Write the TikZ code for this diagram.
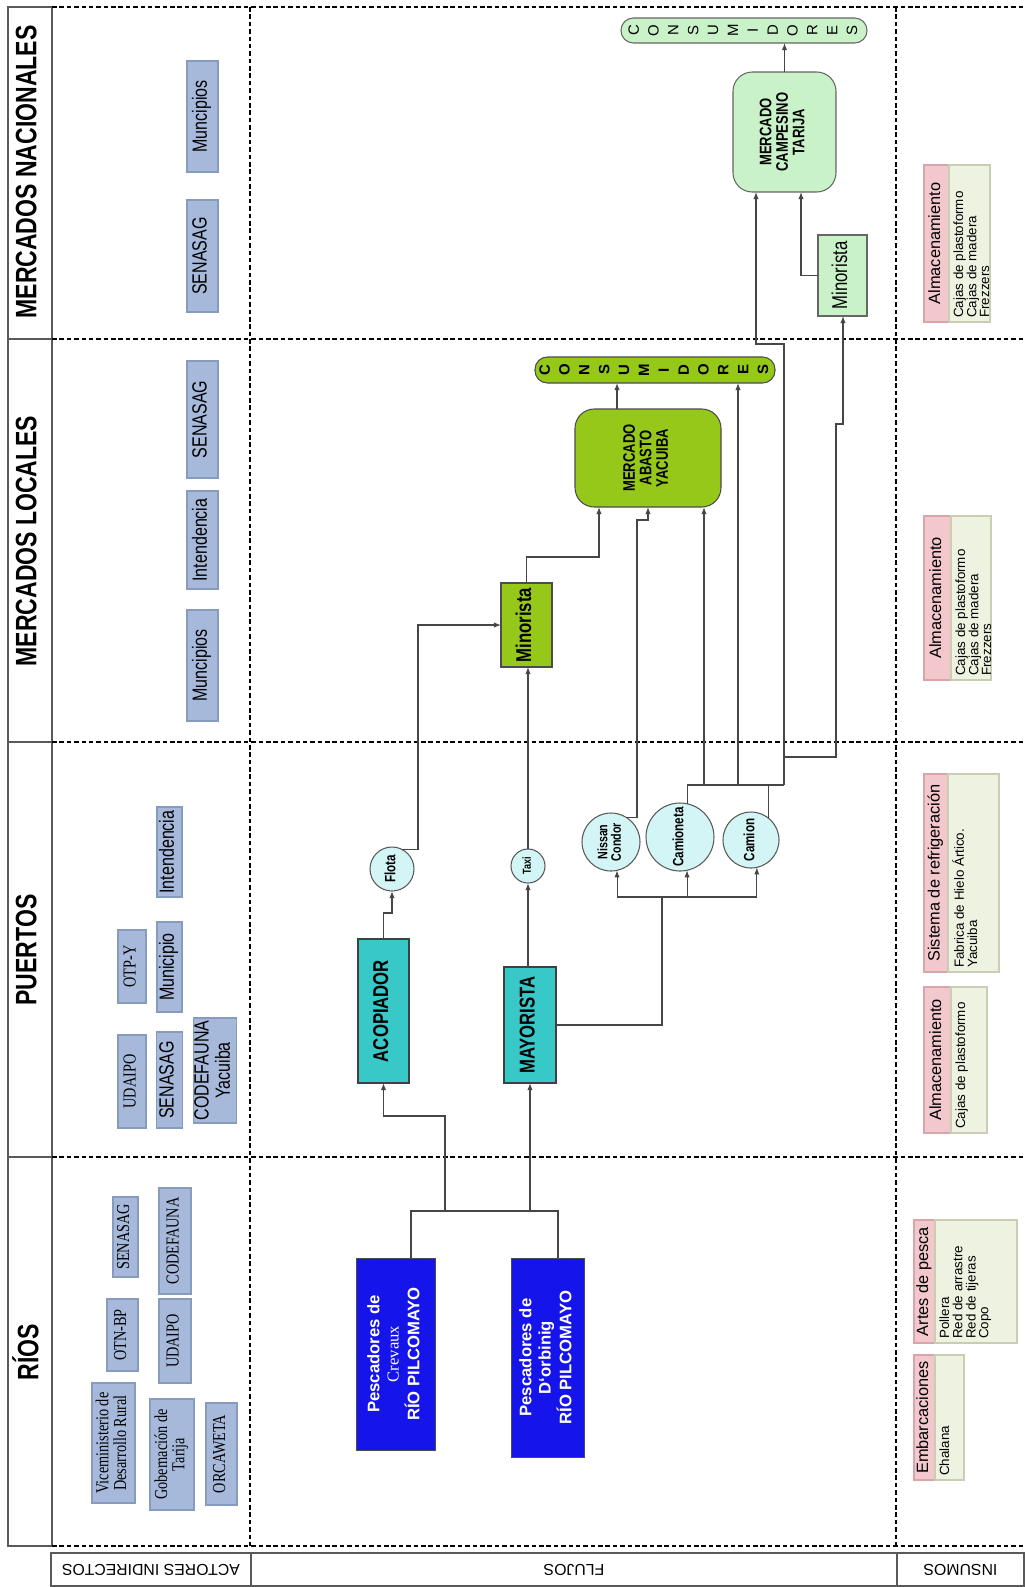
\documentclass[tikz,border=0pt]{standalone}
\usepackage{fontspec}
\usepackage{graphicx}
\setmainfont{Liberation Sans}
\newfontfamily\narrow{Liberation Sans}[FakeStretch=0.78]
\newfontfamily\narrowserif{Liberation Serif}[FakeStretch=0.78]
\newfontfamily\timesrm{Liberation Serif}
\usetikzlibrary{arrows.meta,calc}

\definecolor{actorfill}{RGB}{166,185,218}
\definecolor{actorline}{RGB}{135,155,190}
\definecolor{insheadfill}{RGB}{242,200,204}
\definecolor{insheadline}{RGB}{215,165,170}
\definecolor{insbodyfill}{RGB}{238,242,225}
\definecolor{insbodyline}{RGB}{200,205,180}
\definecolor{pescblue}{RGB}{20,20,235}
\definecolor{tealbox}{RGB}{56,200,200}
\definecolor{cyancirc}{RGB}{212,245,245}
\definecolor{limegreen}{RGB}{150,200,25}
\definecolor{palegreen}{RGB}{202,242,200}
\definecolor{linegray}{RGB}{70,70,70}

\newcommand{\vtext}[1]{\rotatebox{90}{\begin{tabular}{@{}c@{}}#1\end{tabular}}}
\newcommand{\vleft}[1]{\rotatebox{90}{\begin{tabular}{@{}l@{}}#1\end{tabular}}}

\begin{document}
\begin{tikzpicture}[x=0.02cm, y=-0.02cm,
  sz/.style 2 args={minimum width=#1*0.02cm, minimum height=#2*0.02cm},
  bx/.style={inner sep=0pt, outer sep=0pt},
  hdr/.style={bx, font=\narrow\bfseries\fontsize{16.8}{18}\selectfont},
  actor/.style={bx, fill=actorfill, draw=actorline, line width=0.6pt, font=\narrow\fontsize{11.7}{12}\selectfont},
  actorrm/.style={actor, font=\narrowserif\fontsize{10.4}{9.6}\selectfont},
  inshead/.style={bx, fill=insheadfill, draw=insheadline, line width=0.6pt, font=\fontsize{9.3}{10}\selectfont},
  insbody/.style={bx, fill=insbodyfill, draw=insbodyline, line width=0.6pt},
  instext/.style={inner sep=0pt, anchor=south west, font=\fontsize{7.6}{6.8}\selectfont},
  pesc/.style={bx, fill=pescblue, draw=black!70, text=white, font=\bfseries\fontsize{9.5}{11}\selectfont},
  agent/.style={bx, fill=tealbox, draw=black!75, line width=0.7pt, font=\narrow\bfseries\fontsize{12.2}{13}\selectfont},
  vehic/.style={bx, circle, fill=cyancirc, draw=black!65, line width=0.6pt, font=\narrow\bfseries\fontsize{8.5}{8}\selectfont},
  limebx/.style={bx, fill=limegreen, draw=black!70, line width=0.6pt},
  pale/.style={bx, fill=palegreen, draw=black!60, line width=0.6pt},
  market/.style={rounded corners=11pt, font=\narrow\bfseries\fontsize{9.5}{9.2}\selectfont},
  consum/.style={rounded corners=7pt, font=\fontsize{8.5}{11.3}\selectfont},
  wire/.style={draw=linegray, line width=0.6pt},
  arr/.style={wire, -{Latex[length=4pt,width=3pt]}},
  sepline/.style={line width=1.3pt, dash pattern=on 2.6pt off 1.6pt},
  hdrframe/.style={draw=black!65, line width=0.8pt},
  footer/.style={hdrframe, inner sep=0pt, rotate=180, font=\fontsize{9}{10}\selectfont}]

  \useasboundingbox (0,0) rectangle (1025,1587);

  % Stage column
  \draw[hdrframe] (8,7) rectangle (52,1546);
  \foreach \yy in {339,742,1157} {
    \draw[hdrframe] (8,\yy) -- (52,\yy);
  }
  \node[hdr] (hNac) at (30,172) {\vtext{MERCADOS NACIONALES}};
  \node[hdr] (hLoc) at (30,541) {\vtext{MERCADOS LOCALES}};
  \node[hdr] (hPue) at (30,950) {\vtext{PUERTOS}};
  \node[hdr] (hRio) at (30,1352) {\vtext{RÍOS}};

  % Dotted grid
  \foreach \yy in {7,339,742,1157,1546} {
    \draw[sepline] (52,\yy) -- (1025,\yy);
  }
  \foreach \xx in {250,896} {
    \draw[sepline] (\xx,7) -- (\xx,1546);
  }

  % Column labels
  \node[footer, sz={200}{33}] (fAct) at (151,1569.5) {ACTORES INDIRECTOS};
  \node[footer, sz={646}{33}] (fFlu) at (574,1569.5) {FLUJOS};
  \node[footer, sz={127}{33}] (fIns) at (960.5,1569.5) {INSUMOS};

  % Indirect actors
  \node[actor, sz={31}{111}] (aNacMun) at (202.5,116.5) {\vtext{Muncipios}};
  \node[actor, sz={31}{112}] (aNacSen) at (202.5,256) {\vtext{SENASAG}};
  \node[actor, sz={31}{117}] (aLocSen) at (202.5,419.5) {\vtext{SENASAG}};
  \node[actor, sz={31}{98}] (aLocInt) at (202.5,540) {\vtext{Intendencia}};
  \node[actor, sz={31}{111}] (aLocMun) at (202.5,665.5) {\vtext{Muncipios}};
  \node[actorrm, sz={28}{93}] (aPueUda) at (132,1081.5) {\vtext{UDAIPO}};
  \node[actorrm, sz={28}{73}] (aPueOtp) at (132,966.5) {\vtext{OTP-Y}};
  \node[actor, sz={26}{96}] (aPueSen) at (169.5,1080) {\vtext{SENASAG}};
  \node[actor, sz={25}{90}] (aPueMun) at (169.5,967) {\vtext{Municipio}};
  \node[actor, sz={25}{90}] (aPueInt) at (169.5,852) {\vtext{Intendencia}};
  \node[actor, sz={36}{105}] (aPueCod) at (215,1070.5) {\vtext{CODEFAUNA\\Yacuiba}};
  \node[actorrm, sz={43}{120}] (aRioVic) at (113.5,1443) {\vtext{Viceministerio de\\Desarrollo Rural}};
  \node[actorrm, sz={31}{72}] (aRioOtn) at (122.5,1335) {\vtext{OTN-BP}};
  \node[actorrm, sz={25}{80}] (aRioSen) at (125.5,1237) {\vtext{SENASAG}};
  \node[actorrm, sz={44}{111}] (aRioGob) at (172,1454.5) {\vtext{Gobernación de\\Tarija}};
  \node[actorrm, sz={32}{84}] (aRioUda) at (175,1341) {\vtext{UDAIPO}};
  \node[actorrm, sz={32}{106}] (aRioCod) at (175,1241) {\vtext{CODEFAUNA}};
  \node[actorrm, sz={31}{102}] (aRioOrc) at (221.5,1454) {\vtext{ORCAWETA}};

  % Inputs
  \node[inshead, sz={25}{157}] (iAlmNH) at (936.5,243.5) {\vtext{Almacenamiento}};
  \node[insbody, sz={41}{157}] (iAlmNB) at (969.5,243.5) {};
  \node[inshead, sz={27}{164}] (iAlmLH) at (937.5,598) {\vtext{Almacenamiento}};
  \node[insbody, sz={40}{164}] (iAlmLB) at (971,598) {};
  \node[inshead, sz={24}{198}] (iSisH) at (936,873) {\vtext{Sistema de refrigeración}};
  \node[insbody, sz={51}{198}] (iSisB) at (973.5,873) {};
  \node[inshead, sz={27}{146}] (iAlmPH) at (937.5,1060) {\vtext{Almacenamiento}};
  \node[insbody, sz={36}{146}] (iAlmPB) at (969,1060) {};
  \node[inshead, sz={21}{123}] (iArtH) at (924.5,1281.5) {\vtext{Artes de pesca}};
  \node[insbody, sz={82}{123}] (iArtB) at (976,1281.5) {};
  \node[inshead, sz={21}{125}] (iEmbH) at (924.5,1417.5) {\vtext{Embarcaciones}};
  \node[insbody, sz={29}{125}] (iEmbB) at (949.5,1417.5) {};
  \node[instext] (tAlmN) at ($(iAlmNB.south west)+(4,-4)$) {\vleft{Cajas de plastoformo\\Cajas de madera\\Frezzers}};
  \node[instext] (tAlmL) at ($(iAlmLB.south west)+(4,-4)$) {\vleft{Cajas de plastoformo\\Cajas de madera\\Frezzers}};
  \node[instext] (tSis) at ($(iSisB.south west)+(4,-4)$) {\vleft{Fabrica de Hielo Ártico.\\Yacuiba}};
  \node[instext] (tAlmP) at ($(iAlmPB.south west)+(4,-4)$) {\vleft{Cajas de plastoformo}};
  \node[instext] (tArt) at ($(iArtB.south west)+(4,-4)$) {\vleft{Pollera\\Red de arrastre\\Red de tijeras\\Copo}};
  \node[instext] (tEmb) at ($(iEmbB.south west)+(4,-4)$) {\vleft{Chalana}};

  % Flow: fishers and buyers
  \node[pesc, sz={79}{192}] (pCre) at (395.5,1354) {\vtext{Pescadores de\\{\timesrm\mdseries Crevaux}\\RÍO PILCOMAYO}};
  \node[pesc, sz={73}{199}] (pDor) at (547.5,1357.5) {\vtext{Pescadores de\\D`orbinig\\RÍO PILCOMAYO}};
  \node[agent, sz={51}{144}] (nAco) at (383.5,1011) {\vtext{ACOPIADOR}};
  \node[agent, sz={52}{116}] (nMay) at (530,1025) {\vtext{MAYORISTA}};

  % Flow: transport
  \node[vehic, minimum size=44*0.02cm] (cFlo) at (392,869) {\vtext{Flota}};
  \node[vehic, minimum size=34*0.02cm, font=\narrow\bfseries\fontsize{6.6}{8}\selectfont] (cTax) at (528,866) {\vtext{Taxi}};
  \node[vehic, minimum size=58*0.02cm, font=\narrow\bfseries\fontsize{7.8}{7}\selectfont] (cNis) at (611,842) {\vtext{Nissan\\Condor}};
  \node[vehic, minimum size=68*0.02cm] (cCam) at (680,837) {\vtext{Camioneta}};
  \node[vehic, minimum size=56*0.02cm] (cCmn) at (751,840) {\vtext{Camion}};

  % Flow: markets
  \node[limebx, sz={51}{84}, font=\narrow\bfseries\fontsize{12.2}{13}\selectfont] (mLoc) at (526.5,625) {\vtext{Minorista}};
  \node[limebx, market, sz={146}{98}] (mAba) at (648,458) {\vtext{MERCADO\\ABASTO\\YACUIBA}};
  \node[limebx, consum, sz={240}{26}, font=\bfseries\fontsize{8.5}{11.3}\selectfont] (kLoc) at (655,370) {\vtext{C\\O\\N\\S\\U\\M\\I\\D\\O\\R\\E\\S}};
  \node[pale, sz={49}{81}, font=\narrow\fontsize{12.2}{13}\selectfont] (mNac) at (842.5,275.5) {\vtext{Minorista}};
  \node[pale, market, sz={103}{120}] (mCam) at (784.5,132) {\vtext{MERCADO\\CAMPESINO\\TARIJA}};
  \node[pale, consum, sz={246}{25}] (kNac) at (744,30.5) {\vtext{C\\O\\N\\S\\U\\M\\I\\D\\O\\R\\E\\S}};

  % Connectors: fishers
  \coordinate (jA) at (411,1211);
  \coordinate (jB) at (558,1211);
  \coordinate (jC) at (445,1211);
  \coordinate (bAco) at (445,1116);
  \draw[wire] (pCre.north -| jA) -- (jA) -- (jB) -- (pDor.north -| jB);
  \draw[arr] (jC) -- (bAco) -| (nAco.south);
  \draw[arr] (nMay.south |- jA) -- (nMay.south);

  % Connectors: acopiador and mayorista
  \draw[arr] (nAco.north) -- ++(0,-26) -| (cFlo.south);
  \draw[arr] (cFlo.63) -- ++(16,0) |- (mLoc.west);
  \draw[arr] (cTax.south |- nMay.north) -- (cTax.south);
  \draw[arr] (cTax.north) -- (cTax.north |- mLoc.south);
  \coordinate (bBus) at (662,897);
  \draw[wire] (nMay.east) -| (bBus);
  \draw[wire] (cNis.-78 |- bBus) -- (cCmn.-78 |- bBus);
  \foreach \c in {cNis,cCam,cCmn} {
    \draw[arr] (\c.-78 |- bBus) -- (\c.-78);
  }

  % Connectors: local market
  \coordinate (bMin) at (599,557);
  \draw[arr] (mLoc.north) |- (bMin) -- (bMin |- mAba.south);
  \coordinate (tAba) at ($(mAba.north)+(-31,0)$);
  \draw[arr] (tAba) -- (tAba |- kLoc.south);
  \coordinate (bNis) at (637,520);
  \draw[arr] (cNis.58) -| (bNis) -| (mAba.south);
  \coordinate (bCam) at (784,785);
  \coordinate (xA) at (704,785);
  \coordinate (xB) at (738,785);
  \draw[wire] (cCam.78) |- (bCam);
  \draw[wire] (cCmn.52) -- (cCmn.52 |- bCam);
  \draw[arr] (xA) -- (xA |- mAba.south);
  \draw[arr] (xB) -- (xB |- kLoc.south);

  % Connectors: national market
  \coordinate (bCmp) at (756,344);
  \draw[arr] (bCam) |- (bCmp) -- (bCmp |- mCam.south);
  \coordinate (bNac1) at (836,757);
  \coordinate (bNac2) at (843,424);
  \draw[arr] (bCam |- bNac1) -- (bNac1) |- (bNac2) -- (bNac2 |- mNac.south);
  \draw[arr] (mNac.west) -| ($(mCam.south)+(16.5,0)$);
  \draw[arr] (mCam.north) -- (mCam.north |- kNac.south);
\end{tikzpicture}
\end{document}
